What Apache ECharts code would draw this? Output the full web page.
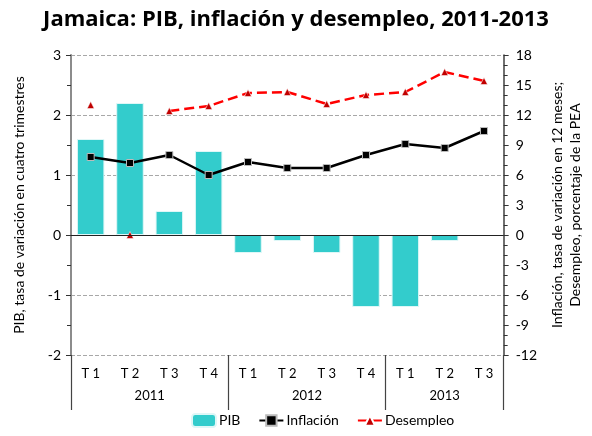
<!DOCTYPE html>
<html>
<head>
    <meta charset="utf-8">
    <title>Jamaica: PIB, inflación y desempleo</title>
    <script src="https://cdn.jsdelivr.net/npm/echarts@6/dist/echarts.min.js"></script>
    <style>
        body { margin: 0; background: #fff; }
        #chart { width: 592px; height: 436px; }
    </style>
</head>
<body>
<div id="chart"></div>
<script>
    // datos
    var trimestres = ['T 1', 'T 2', 'T 3', 'T 4', 'T 1', 'T 2', 'T 3', 'T 4', 'T 1', 'T 2', 'T 3']
    var anios = ['2011', '2012', '2013']
    var trimestresPorAnio = [4, 4, 3]
    var pib = [1.6, 2.2, 0.4, 1.4, -0.3, -0.1, -0.3, -1.2, -1.2, -0.1, null]
    var inflacion = [7.8, 7.2, 8.0, 6.0, 7.3, 6.7, 6.7, 8.0, 9.1, 8.7, 10.4]
    var desempleo = [13.0, 0, 12.4, 12.9, 14.2, 14.3, 13.1, 14.0, 14.3, 16.3, 15.4]
    var desempleoSinLinea = [1]   // punto sin conectar (T2 2011)

    var fuente = 'Lato'

    // limites y centros de cada año en el eje de trimestres
    var limites = [0]
    var centros = []
    for (var i = 0; i < trimestresPorAnio.length; i++) {
        var ini = limites[limites.length - 1]
        centros.push(ini + trimestresPorAnio[i] / 2)
        limites.push(ini + trimestresPorAnio[i])
    }

    var desempleoLinea = desempleo.map(function (v, i) {
        return desempleoSinLinea.indexOf(i) >= 0 ? null : v
    })
    var desempleoPunto = desempleo.map(function (v, i) {
        return desempleoSinLinea.indexOf(i) >= 0 ? v : null
    })

    var myChart = echarts.init(document.getElementById('chart'))

    myChart.setOption({
        animation: false,
        textStyle: {fontFamily: fuente, color: '#000'},
        title: {
            text: 'Jamaica: PIB, inflación y desempleo, 2011-2013',
            left: 'center',
            top: 4,
            textStyle: {fontFamily: 'Open Sans', fontSize: 22, fontWeight: 'bold', color: '#000'}
        },
        legend: {
            bottom: 3,
            left: 186,
            itemGap: 18,
            itemWidth: 24,
            itemHeight: 13,
            textStyle: {fontFamily: fuente, fontSize: 14, color: '#000', padding: [0, 0, 0, -2]},
            data: ['PIB', 'Inflación', 'Desempleo']
        },
        grid: {left: 71, right: 76, top: 55, bottom: 81},
        xAxis: [{
            type: 'category',
            data: trimestres,
            axisLine: {show: false},
            axisTick: {show: false},
            axisLabel: {margin: 12, fontSize: 13, color: '#000', fontFamily: fuente}
        }, {
            type: 'value',
            position: 'bottom',
            min: 0,
            max: limites[limites.length - 1],
            axisLine: {show: false, onZero: false},
            splitLine: {show: false},
            axisTick: {
                show: true,
                customValues: limites,
                length: 55,
                lineStyle: {color: '#444', width: 1.2}
            },
            axisLabel: {
                customValues: centros,
                margin: 34,
                fontSize: 13,
                color: '#000',
                fontFamily: fuente,
                formatter: function (v) {
                    return anios[centros.indexOf(v)]
                }
            }
        }],
        yAxis: [{
            type: 'value',
            min: -2,
            max: 3,
            interval: 1,
            name: 'PIB, tasa de variación en cuatro trimestres',
            nameLocation: 'middle',
            nameRotate: 90,
            nameGap: 45,
            nameTextStyle: {fontSize: 14, color: '#000', fontFamily: fuente},
            axisLine: {show: true, onZero: false, lineStyle: {color: '#8c8c8c', width: 2}},
            axisTick: {show: true, length: 5, lineStyle: {color: '#333'}},
            minorTick: {show: true, splitNumber: 2, length: 4, lineStyle: {color: '#333'}},
            axisLabel: {margin: 10, fontSize: 14, color: '#000', fontFamily: fuente},
            splitLine: {show: true, lineStyle: {color: '#a8a8a8', type: 'dashed', width: 1}}
        }, {
            type: 'value',
            min: -12,
            max: 18,
            interval: 3,
            name: 'Inflación, tasa de variación en 12 meses;\nDesempleo, porcentaje de la PEA',
            nameLocation: 'middle',
            nameRotate: 90,
            nameGap: 42,
            nameTextStyle: {fontSize: 14, color: '#000', fontFamily: fuente, lineHeight: 18},
            axisLine: {show: true, onZero: false, lineStyle: {color: '#404040', width: 1.5}},
            axisTick: {show: true, length: 5, lineStyle: {color: '#333'}},
            minorTick: {show: true, splitNumber: 3, length: 4, lineStyle: {color: '#333'}},
            axisLabel: {margin: 12, fontSize: 14, color: '#000', fontFamily: fuente},
            splitLine: {show: false}
        }],
        series: [{
            name: 'PIB',
            type: 'bar',
            data: pib,
            barWidth: '70%',
            itemStyle: {color: '#33CCCC', borderColor: '#dff7f7', borderWidth: 1},
            markLine: {
                silent: true,
                symbol: 'none',
                label: {show: false},
                lineStyle: {color: '#222', type: 'solid', width: 1.2},
                data: [{yAxis: 0}]
            }
        }, {
            name: 'Inflación',
            type: 'line',
            yAxisIndex: 1,
            data: inflacion,
            symbol: 'rect',
            symbolSize: 7,
            lineStyle: {color: '#000', width: 2.5},
            itemStyle: {color: '#000', borderColor: '#bbb', borderWidth: 1},
            z: 3
        }, {
            name: 'Desempleo',
            type: 'line',
            yAxisIndex: 1,
            data: desempleoLinea,
            symbol: 'triangle',
            symbolSize: 7,
            lineStyle: {color: '#ff0000', width: 2.5, type: [10, 5]},
            itemStyle: {color: '#c00000', borderColor: '#fff', borderWidth: 0.5},
            z: 4
        }, {
            name: 'Desempleo',
            type: 'line',
            yAxisIndex: 1,
            data: desempleoPunto,
            symbol: 'triangle',
            symbolSize: 7,
            lineStyle: {color: '#ff0000', width: 2.5, type: [10, 5]},
            itemStyle: {color: '#c00000', borderColor: '#fff', borderWidth: 0.5},
            z: 4
        }]
    })
</script>
</body>
</html>
